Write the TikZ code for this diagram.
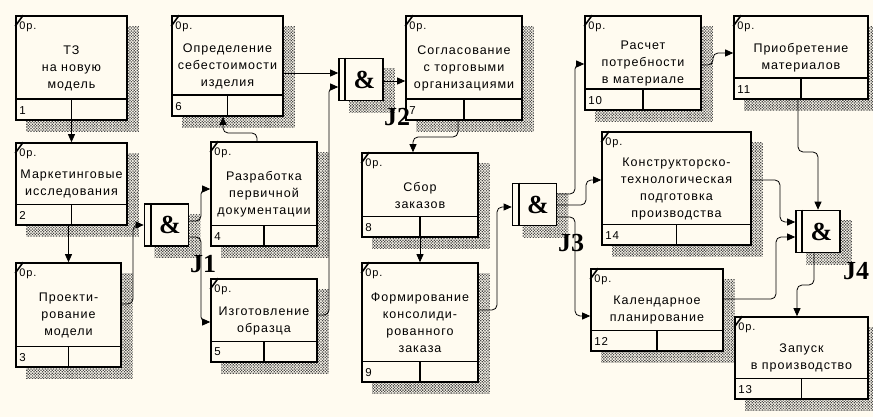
\documentclass[tikz,border=0pt]{standalone}
\usepackage{fontspec}
\setmainfont[LetterSpace=8]{Liberation Sans}
\newfontfamily\jfont{Liberation Serif}
\usetikzlibrary{arrows.meta,patterns.meta,backgrounds}
\definecolor{paper}{HTML}{FFFBF0}
\definecolor{dots}{HTML}{484848}
% shadow behind a box or junction
\newcommand{\hatchbehind}[1]{%
  \begin{scope}[on background layer]
    \path[hatch] ([shift={(11pt,-11pt)}]#1.north west) rectangle ([shift={(11pt,-11pt)}]#1.south east);
  \end{scope}}
% number row, corner tick and "0p." of a unit of work
\newcommand{\uobparts}[2]{%
  \hatchbehind{#1}
  \draw[boxln] ([yshift=21.5pt]#1.south west) -- ([yshift=21.5pt]#1.south east);
  \draw[boxln] (#1.south) -- ([yshift=21.5pt]#1.south);
  \draw[boxln] ([yshift=-11pt]#1.north west) -- ([xshift=8pt]#1.north west);
  \node[oplab] (#1op) at ([xshift=4pt,yshift=-12pt]#1.north west) {0p.};
  \node[numlab] (#1nr) at ([xshift=4pt,yshift=10.75pt]#1.south west) {#2};}
\newcommand{\jparts}[1]{%
  \hatchbehind{#1}
  \draw[boxln] ([xshift=7pt]#1.north west) -- ([xshift=7pt]#1.south west);}
\tikzset{
  every node/.style={font=\fontsize{12.5}{17}\selectfont},
  boxln/.style={line width=1.6pt},
  uob/.style={draw,boxln,fill=paper,align=center,inner sep=0pt},
  jn/.style={draw,boxln,fill=paper,minimum width=44pt,minimum height=42pt,inner sep=0pt,
             font=\jfont\bfseries\fontsize{26}{26}\selectfont},
  jlab/.style={font=\jfont\bfseries\fontsize{26}{26}\selectfont,inner sep=0pt},
  oplab/.style={anchor=west,inner sep=0pt,font=\fontsize{11}{11}\selectfont},
  numlab/.style={anchor=west,inner sep=0pt,font=\fontsize{11.5}{11.5}\selectfont},
  hatch/.style={pattern={Dots[distance=2pt,radius=0.9pt,angle=45]},pattern color=dots},
  ar/.style={-{Triangle[length=8pt,width=7pt]},line width=0.8pt,rounded corners=5pt},
}
\begin{document}
\begin{tikzpicture}[x=1pt,y=-1pt]
\begin{scope}[on background layer]
  \fill[paper] (0,0) rectangle (873,417);
\end{scope}
\useasboundingbox (0,0) rectangle (873,417);

% units of work
\node[uob,minimum width=111pt,minimum height=104pt] (b1) at (71.5,68) {ТЗ\\на новую\\модель};
\node[uob,minimum width=111pt,minimum height=82pt] (b2) at (71.5,184) {Маркетинговые\\исследования};
\node[uob,minimum width=105pt,minimum height=104pt] (b3) at (68.5,315) {Проекти-\\рование\\модели};
\node[uob,minimum width=106pt,minimum height=104pt] (b4) at (264,194) {Разработка\\первичной\\документации};
\node[uob,minimum width=106pt,minimum height=83pt] (b5) at (264,320.5) {Изготовление\\образца};
\node[uob,minimum width=111pt,minimum height=100pt] (b6) at (227.5,66) {Определение\\себестоимости\\изделия};
\node[uob,minimum width=116pt,minimum height=104pt] (b7) at (464,68) {Согласование\\с торговыми\\организациями};
\node[uob,minimum width=116pt,minimum height=84pt] (b8) at (420,195) {Сбор\\заказов};
\node[uob,minimum width=116pt,minimum height=119pt] (b9) at (420,322.5) {Формирование\\консолиди-\\рованного\\заказа};
\node[uob,minimum width=116pt,minimum height=94pt] (b10) at (643,63) {Расчет\\потребности\\в материале};
\node[uob,minimum width=134pt,minimum height=83pt] (b11) at (801,57.5) {Приобретение\\материалов};
\node[uob,minimum width=132pt,minimum height=82pt] (b12) at (657,310) {Календарное\\планирование};
\node[uob,minimum width=133pt,minimum height=82pt] (b13) at (801.5,358) {Запуск\\в производство};
\node[uob,minimum width=149pt,minimum height=113pt] (b14) at (676.5,188.5) {Конструкторско-\\технологическая\\подготовка\\производства};
\uobparts{b1}{1}  \uobparts{b2}{2}  \uobparts{b3}{3}  \uobparts{b4}{4}
\uobparts{b5}{5}  \uobparts{b6}{6}  \uobparts{b7}{7}  \uobparts{b8}{8}
\uobparts{b9}{9}  \uobparts{b10}{10} \uobparts{b11}{11} \uobparts{b12}{12}
\uobparts{b13}{13} \uobparts{b14}{14}

% junctions
\node[jn] (j1) at (166.5,225) {\hspace{7pt}\&};
\node[jn] (j2) at (361,79.5) {\hspace{7pt}\&};
\node[jn] (j3) at (534.5,204.5) {\hspace{7pt}\&};
\node[jn] (j4) at (818,231.5) {\hspace{7pt}\&};
\jparts{j1} \jparts{j2} \jparts{j3} \jparts{j4}
\node[jlab] (j1l) at (203,264) {J1};
\node[jlab] (j2l) at (397,117) {J2};
\node[jlab] (j3l) at (571,243) {J3};
\node[jlab] (j4l) at (856,271) {J4};

% links
\draw[ar] (b1.south) -- (b2.north);
\draw[ar] (b3.north |- b2.south) -- (b3.north);
\draw[ar] (b3.east |- 0,304) -| (133,225) -- (j1.west);
\draw[ar] (j1.east |- 0,221) -| (201,189) -- (b4.west |- 0,189);
\draw[ar] (j1.east |- 0,237) -| (201,322) -- (b5.west |- 0,322);
\draw[ar] (b4.north -| 257,0) |- (223,133) -- (b6.south -| 223,0);
\draw[ar] (b6.east |- 0,73) -- (j2.west |- 0,73);
\draw[ar] (b5.east |- 0,315) -| (329,87) -- (j2.west |- 0,87);
\draw[ar] (j2.east |- 0,81) -- (b7.west |- 0,81);
\draw[ar] (b7.south -| 458,0) |- (413,137) -- (b8.north -| 413,0);
\draw[ar] (b8.south) -- (b9.north);
\draw[ar] (b9.east |- 0,310) -| (497,207) -- (j3.west |- 0,207);
\draw[ar] (j3.east |- 0,194) -| (575,64) -- (b10.west |- 0,64);
\draw[ar] (j3.east |- 0,205) -| (586,180) -- (b14.west |- 0,180);
\draw[ar] (j3.east |- 0,217) -| (575,316) -- (b12.west |- 0,316);
\draw[ar] (b10.east |- 0,65) -| (713,53) -- (b11.west |- 0,53);
\draw[ar] (b11.south -| 798,0) |- (818,152) -- (j4.north);
\draw[ar] (b14.east |- 0,180) -| (780,222) -- (j4.west |- 0,222);
\draw[ar] (b12.east |- 0,299) -| (776,237) -- (j4.west |- 0,237);
\draw[ar] (j4.south -| 814,0) |- (797,285) -- (b13.north -| 797,0);
\end{tikzpicture}
\end{document}
